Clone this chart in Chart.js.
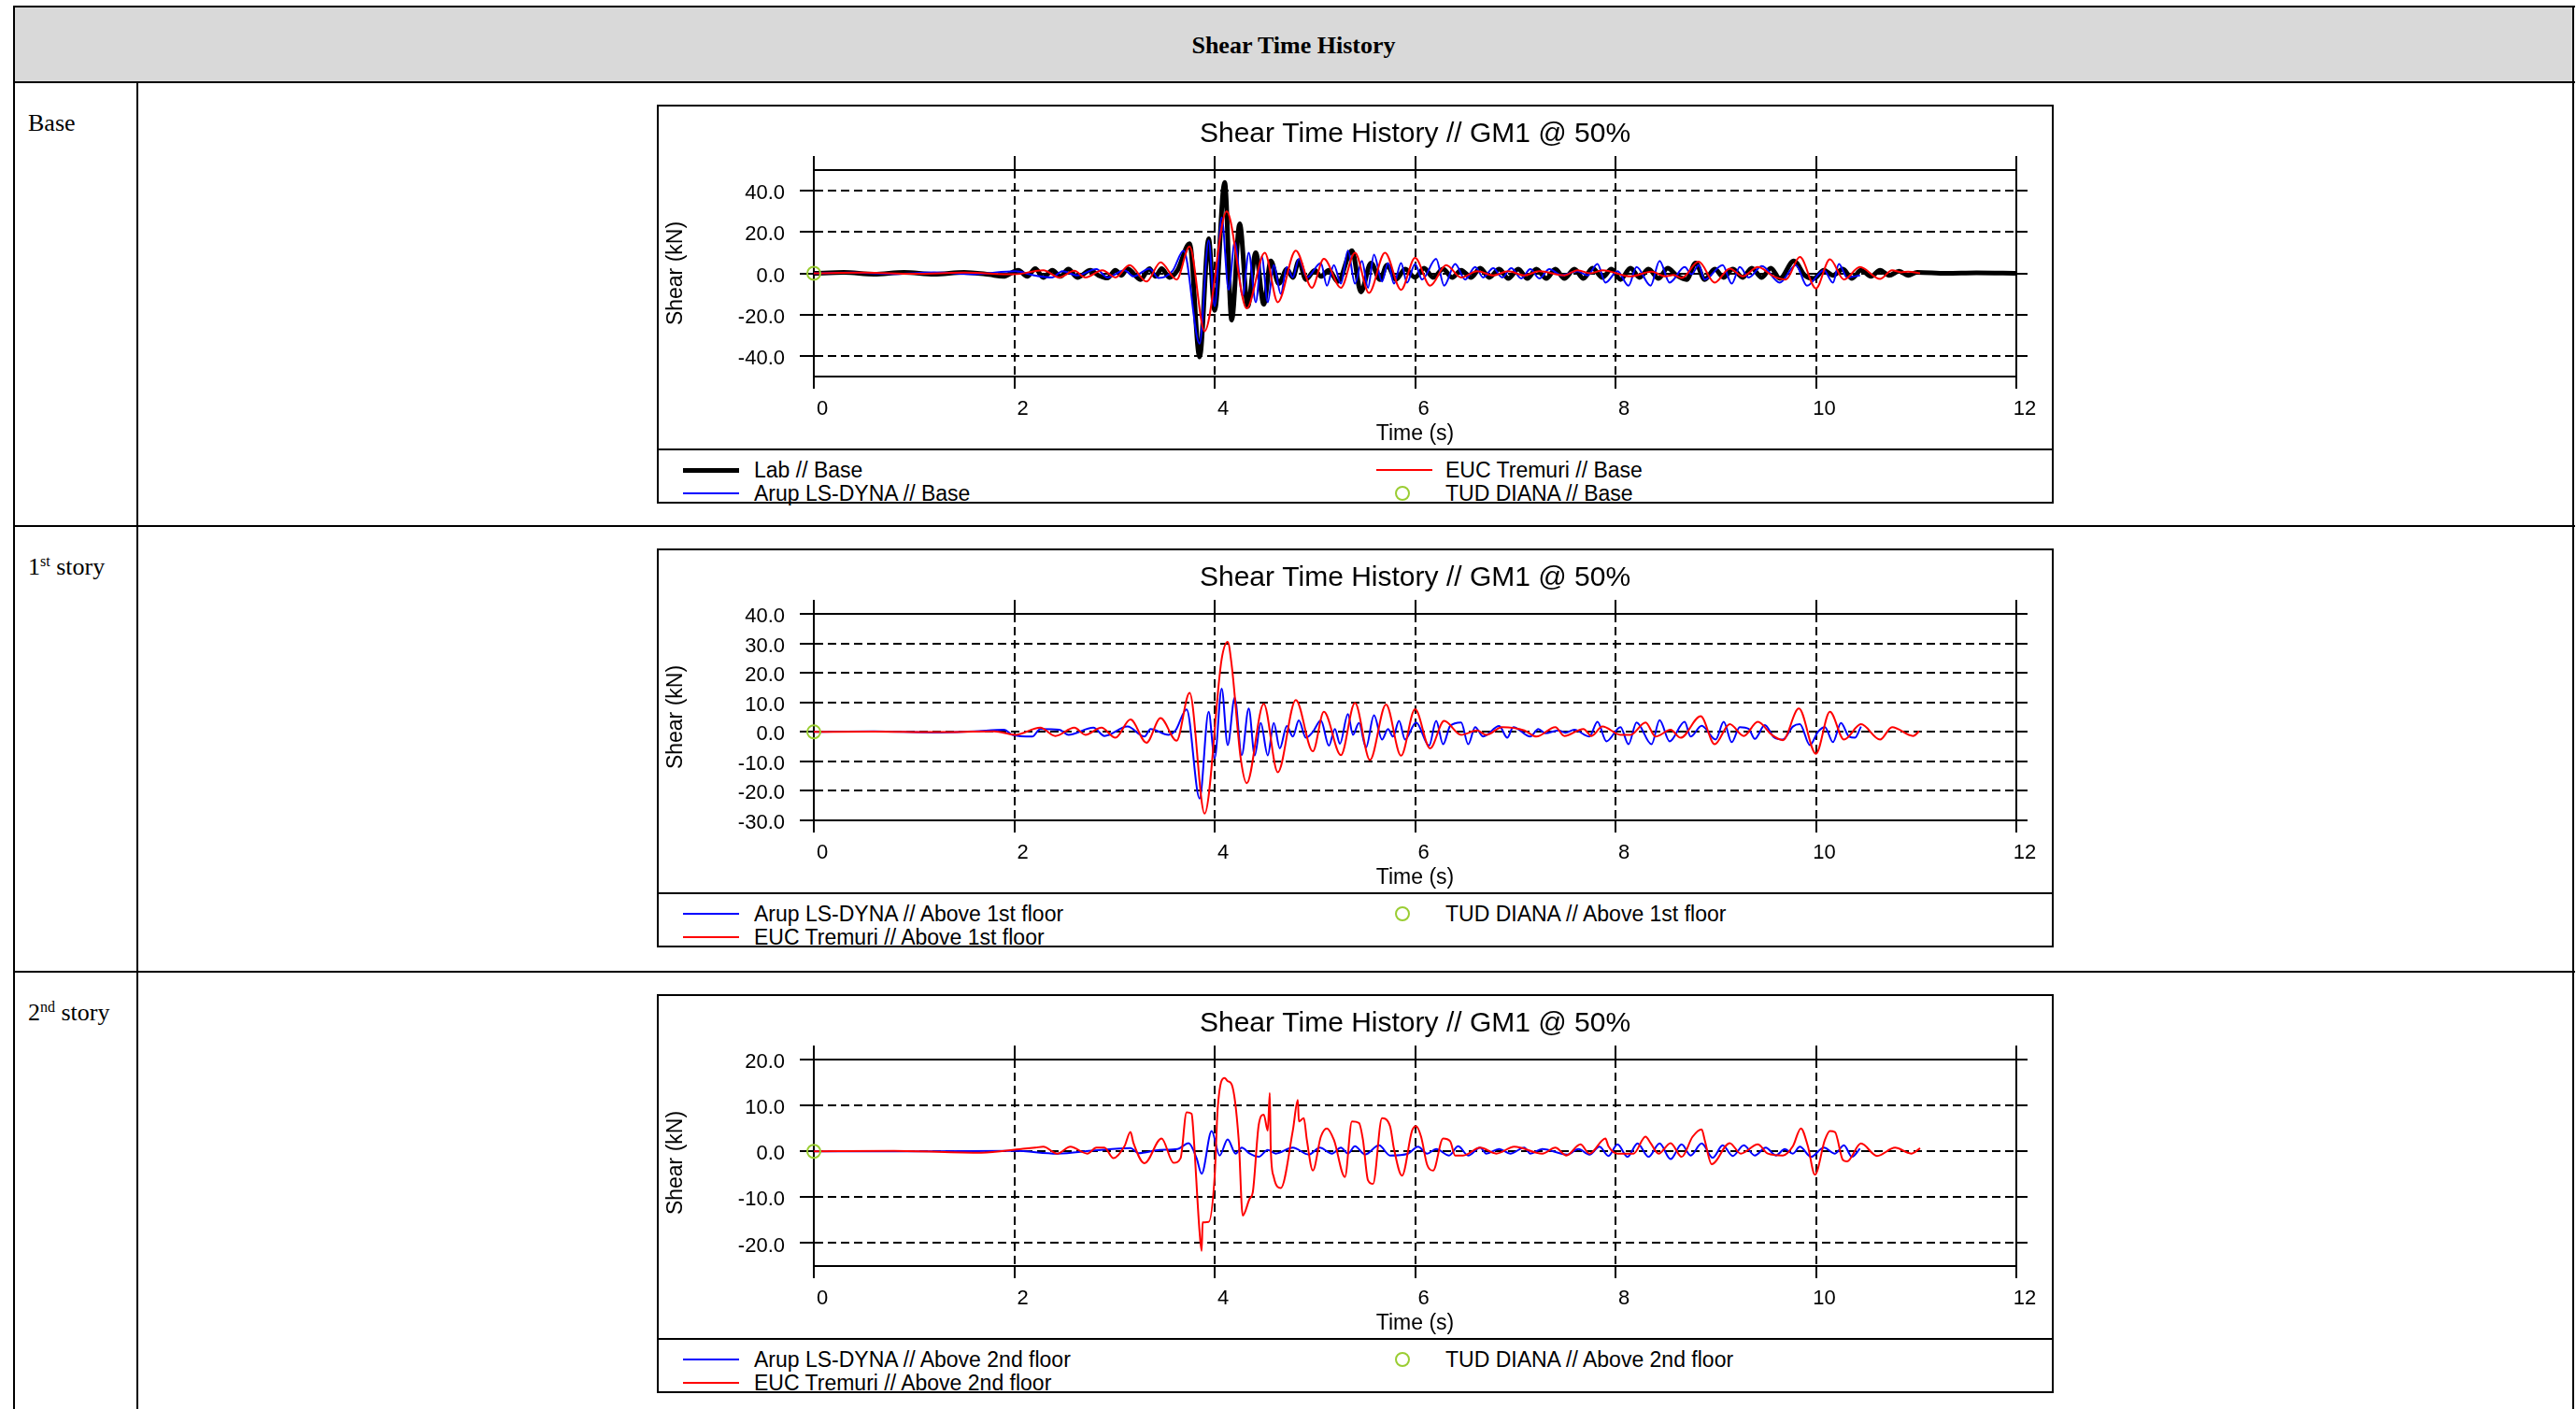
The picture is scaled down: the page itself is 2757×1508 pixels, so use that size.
<!DOCTYPE html>
<html>
<head>
<meta charset="utf-8">
<title>Shear Time History</title>
<script src="https://cdn.jsdelivr.net/npm/chart.js@4.4.1/dist/chart.umd.min.js"></script>
<style>
  body { margin: 0; width: 2757px; height: 1508px; overflow: hidden; background: #fff; font-family: "Liberation Serif", serif; }
  .ln { position: absolute; background: #000; }
  .hdr { position: absolute; left: 16px; top: 8px; width: 2737px; height: 79px; background: #d9d9d9;
         display: flex; align-items: center; justify-content: center; font-weight: bold; font-size: 26px; padding-top: 2px; box-sizing: border-box; }
  .rowlab { position: absolute; left: 30px; font-size: 26px; line-height: 30px; }
  .rowlab sup { font-size: 16px; vertical-align: 9px; line-height: 0; }
  .box { position: absolute; left: 703px; width: 1495px; height: 427px; border: 2px solid #000; box-sizing: border-box; }
  .box canvas { position: absolute; left: 0; top: 0; }
  .sep { position: absolute; left: 0; right: 0; top: 366px; height: 2px; background: #000; }
  .lg { position: absolute; font-family: "Liberation Sans", Arial, sans-serif; font-size: 23px; line-height: 26px; white-space: nowrap; }
  .lgline { position: absolute; }
  .lgdot { position: absolute; width: 12px; height: 12px; border-radius: 50%; border: 2px solid #9acd32; }
</style>
</head>
<body>
<div class="hdr">Shear Time History</div>
<div class="ln" style="left:14px;top:6px;width:2742px;height:2px"></div>
<div class="ln" style="left:14px;top:87px;width:2742px;height:2px"></div>
<div class="ln" style="left:14px;top:562px;width:2742px;height:2px"></div>
<div class="ln" style="left:14px;top:1039px;width:2742px;height:2px"></div>
<div class="ln" style="left:14px;top:6px;width:2px;height:1502px"></div>
<div class="ln" style="left:2753px;top:6px;width:2px;height:1502px"></div>
<div class="ln" style="left:146px;top:87px;width:2px;height:1421px"></div>

<div class="rowlab" style="top:117px">Base</div>
<div class="rowlab" style="top:592px">1<sup>st</sup> story</div>
<div class="rowlab" style="top:1069px">2<sup>nd</sup> story</div>

<div class="box" id="box0" style="top:112px"><canvas id="c0" width="1491" height="366"></canvas><div class="sep"></div></div>
<div class="box" id="box1" style="top:587px"><canvas id="c1" width="1491" height="366"></canvas><div class="sep"></div></div>
<div class="box" id="box2" style="top:1064px"><canvas id="c2" width="1491" height="366"></canvas><div class="sep"></div></div>

<script>
// ticks
const timeTicks = [0, 2, 4, 6, 8, 10, 12];
const yTicksBase = [-40, -20, 0, 20, 40];
const yTicks1st = [-30, -20, -10, 0, 10, 20, 30, 40];
const yTicks2nd = [-20, -10, 0, 10, 20];

// Base shear (kN) vs time (s): [t, V]
const labBase = [[0,0],[0.3,0.4],[0.6,-0.4],[0.9,0.5],[1.2,-0.4],[1.5,0.5],[1.75,-0.6],[1.89,-1.5],[2.04,1.5],[2.13,-1.5],
  [2.21,2.3],[2.29,-2],[2.38,1.5],[2.46,-1.5],[2.54,2],[2.63,-2],[2.76,1.5],[2.84,-1],[2.93,-2.3],[3.01,1.5],[3.07,-1],
  [3.13,2.3],[3.26,-3],[3.35,2.3],[3.41,-1.5],[3.47,2.3],[3.55,-2],[3.63,1.5],[3.75,14.4],[3.85,-40.5],[3.94,16.7],
  [4.0,-18],[4.1,44],[4.17,-22.7],[4.25,24],[4.33,-16],[4.41,10],[4.49,-15],[4.56,6],[4.64,-5],[4.72,2],[4.78,-2],
  [4.84,6],[4.91,-3],[5.0,1.5],[5.06,-1.5],[5.14,1.5],[5.23,-4],[5.37,11],[5.46,-9],[5.56,5],[5.65,-3],[5.72,4],
  [5.81,-3],[5.9,2],[6.0,-2],[6.09,2.5],[6.18,-2],[6.28,2],[6.37,-2],[6.46,1.5],[6.56,-2],[6.65,2.5],[6.74,-2],
  [6.84,2],[6.93,-2.5],[7.03,2],[7.12,-2.5],[7.21,2],[7.31,-2.5],[7.4,2],[7.49,-2.5],[7.59,2],[7.68,-2.5],[7.77,2.5],
  [7.87,-2],[7.96,2],[8.05,-3],[8.15,2.5],[8.24,-2],[8.33,2],[8.43,-2.5],[8.52,2.5],[8.61,-1],[8.71,-3],[8.8,5],
  [8.89,-3],[8.99,2],[9.08,-2],[9.17,2],[9.27,-2],[9.36,2.5],[9.46,-2],[9.55,2.5],[9.64,-2.5],[9.78,6],[9.89,-1],
  [9.98,-2.5],[10.08,1.5],[10.17,-1],[10.27,2],[10.36,-2.5],[10.45,1.5],[10.55,-1.5],[10.64,1.5],[10.73,-1],
  [10.83,1],[10.92,-1],[11.01,0.5],[11.3,0],[11.6,0.2],[12,0]];
const arupBase = [[0,0],[0.4,0.3],[0.8,-0.3],[1.2,0.4],[1.6,-0.4],[2.01,1],[2.2,-1],[2.38,-2],[2.48,1],[2.63,-1],
  [2.82,2],[2.93,-2],[3.1,1.5],[3.19,-1.5],[3.35,2.3],[3.44,-2.3],[3.58,1.2],[3.69,11],[3.85,-34],[3.94,16],[4.0,-16],
  [4.07,27],[4.14,-8],[4.2,15],[4.28,-11],[4.34,10],[4.41,-14],[4.47,8],[4.53,-14],[4.59,4],[4.66,-10],[4.72,3],
  [4.78,-2],[4.84,7],[4.92,-2],[5.06,5],[5.12,-6],[5.19,4],[5.26,-5],[5.33,11],[5.4,-5],[5.47,6],[5.53,-7],[5.59,9],
  [5.67,-4],[5.73,5],[5.79,-5],[5.86,5],[5.92,-4.5],[6.0,4.5],[6.07,-3],[6.21,7],[6.29,-6],[6.4,4.5],[6.5,-3],
  [6.6,3],[6.68,-2],[6.78,2.5],[6.87,-2],[6.96,2.5],[7.06,-2.5],[7.15,2],[7.24,-2.5],[7.34,2],[7.46,-1],[7.62,1],
  [7.72,-1],[7.82,4.5],[7.9,-4.5],[8.02,1],[8.13,-6],[8.21,3],[8.35,-6],[8.44,6],[8.54,-4.5],[8.69,3],[8.76,-0.5],
  [8.83,4],[8.89,-3],[9.07,4],[9.16,-5],[9.24,3],[9.33,-2],[9.46,3.5],[9.64,-4.5],[9.8,4],[9.91,-6],[10.08,1.5],
  [10.17,-4.5],[10.23,4.5],[10.31,-2],[10.44,-1]];
const eucBase = [[0,0],[0.5,0.3],[1.0,-0.2],[1.5,0.3],[2.0,-0.5],[2.29,1.5],[2.45,-2],[2.6,1.2],[2.71,-2],[2.88,1.5],
  [3.01,-2],[3.15,4],[3.32,-4],[3.46,5.3],[3.62,-3],[3.75,13],[3.9,-28],[4.12,30],[4.32,-17],[4.5,10],[4.63,-14],
  [4.81,11],[4.97,-7],[5.09,7],[5.26,-7],[5.4,10],[5.54,-9.5],[5.7,10],[5.86,-8],[6.0,7.5],[6.15,-6],[6.31,4],
  [6.46,-2],[6.62,1],[6.78,-1],[6.93,1],[7.09,-1],[7.24,1],[7.49,-1],[7.62,1.5],[7.75,0],[7.87,1.5],[8.15,-1.5],
  [8.36,0.8],[8.5,-1.5],[8.58,-0.8],[8.66,-2.3],[8.83,5.6],[8.99,-4.5],[9.14,2.3],[9.27,-1.5],[9.42,3],[9.58,-1.5],
  [9.7,-3],[9.84,7.9],[10.0,-7.3],[10.14,6.8],[10.28,-3],[10.44,3],[10.64,-2.7],[10.76,1.5],[10.85,0.5],[10.92,0.8],
  [11.04,0]];
const tudBase = [[0,0]];

// Shear above 1st floor
const arup1st = [[0,0],[0.6,0.2],[1.2,-0.2],[1.6,0.2],[1.9,0.7],[1.98,-1],[2.18,-1.6],[2.26,1],[2.45,0.7],[2.54,-1],
  [2.79,1.4],[2.9,-1.4],[3.13,1.8],[3.3,-1.6],[3.36,1],[3.54,-1],[3.61,0.5],[3.72,7.6],[3.85,-22.6],[3.94,6.8],
  [4.0,-9],[4.07,14.7],[4.13,-4.5],[4.2,11.6],[4.27,-7.9],[4.34,7.9],[4.4,-8],[4.46,3],[4.53,-8],[4.59,3],[4.65,-5.6],
  [4.72,2],[4.78,-1.6],[4.84,3.9],[4.91,-2],[4.98,0],[5.06,3.9],[5.14,-4.7],[5.2,1],[5.25,-4],[5.33,6],[5.38,-1],
  [5.44,3],[5.51,-5.3],[5.59,5.6],[5.67,-2.6],[5.73,1],[5.78,-1.6],[5.84,3.7],[5.9,-2.6],[6.01,3.2],[6.14,-4.7],
  [6.21,3.7],[6.28,-4.2],[6.35,2],[6.46,3.2],[6.53,-4.2],[6.6,1.6],[6.68,-1.6],[6.84,2],[6.92,-2],[6.98,1.6],
  [7.15,-1.6],[7.23,1],[7.3,-0.5],[7.43,0.5],[7.5,-0.3],[7.59,0.7],[7.74,-1.6],[7.82,3.4],[7.91,-3.2],[8.05,1.6],
  [8.13,-4.2],[8.21,3.2],[8.36,-4.2],[8.44,4],[8.54,-3.2],[8.69,3.4],[8.75,-1.6],[8.86,2.1],[9.0,-2.6],[9.08,3.4],
  [9.16,-3.5],[9.24,1.6],[9.33,1],[9.39,-2.4],[9.49,2.3],[9.58,-1.8],[9.67,-2.6],[9.77,1.8],[9.84,2.6],[9.94,-4.5],
  [10.02,0],[10.09,1.6],[10.17,-3.5],[10.25,3],[10.33,-1.6],[10.39,-2],[10.45,1.8]];
const euc1st = [[0,0],[0.6,0.1],[1.2,-0.1],[1.8,0.2],[2.01,-1],[2.26,1.4],[2.41,-1.4],[2.6,1.4],[2.71,-1],[2.87,1.4],
  [3.01,-2],[3.16,4.2],[3.32,-3.7],[3.46,4.7],[3.62,-3],[3.75,13.2],[3.9,-27.7],[4.07,24.7],[4.13,30.5],[4.17,22.6],
  [4.26,-9],[4.32,-17.4],[4.49,9.5],[4.63,-13.7],[4.81,10.8],[4.98,-6.6],[5.09,6.8],[5.26,-7.9],[5.4,9.8],[5.55,-9.5],
  [5.71,9.3],[5.86,-8.1],[6.0,7.7],[6.15,-5.6],[6.29,3.7],[6.46,-1],[6.62,0.5],[6.71,-1],[6.87,1.6],[7.09,0.5],
  [7.21,-1.6],[7.4,1.6],[7.49,-1.4],[7.68,1],[7.76,-1.4],[7.87,1.8],[8.05,-1],[8.15,-1],[8.3,3.2],[8.4,-1.6],
  [8.55,0.7],[8.65,-2],[8.85,5.3],[8.99,-4.2],[9.14,2.6],[9.28,-1.4],[9.42,3.4],[9.56,-1],[9.67,-2.8],[9.83,7.9],
  [10.0,-7.4],[10.14,6.8],[10.28,-2.6],[10.45,2.6],[10.64,-2.6],[10.76,1.6],[10.97,-1.4],[11.03,0.2]];
const tud1st = [[0,0]];

// Shear above 2nd floor
const arup2nd = [[0,0],[1.0,0],[2.0,0.1],[2.43,-0.5],[2.8,0.2],[3.16,0.7],[3.24,-0.4],[3.45,0.3],[3.63,0.5],[3.74,1.8],
  [3.82,-1.5],[3.87,-4.9],[3.97,4.4],[4.05,-0.9],[4.13,2.6],[4.21,-0.5],[4.27,0.8],[4.35,-0.5],[4.44,-1.2],[4.53,0.3],
  [4.61,-0.5],[4.78,0.8],[4.94,-0.7],[5.05,0.8],[5.17,-0.5],[5.26,0.8],[5.33,-0.5],[5.4,1.1],[5.5,-0.7],[5.64,1.3],
  [5.75,-0.9],[5.93,-0.5],[6.03,1],[6.12,-0.5],[6.21,0.5],[6.34,-0.9],[6.43,1.1],[6.53,-0.9],[6.65,0.8],[6.71,-0.5],
  [6.84,0.5],[6.95,-0.5],[7.09,0.8],[7.15,-0.5],[7.27,0.5],[7.52,-0.7],[7.63,0.5],[7.74,-0.7],[7.84,1],[7.93,-1],
  [8.02,1.5],[8.12,-1.2],[8.22,1.7],[8.33,-1.2],[8.44,1.7],[8.55,-1.7],[8.66,1.5],[8.75,-0.9],[8.86,1.7],[8.97,-1.4],
  [9.07,1.3],[9.17,-1],[9.28,1.3],[9.39,-0.9],[9.5,0.8],[9.6,-0.9],[9.69,0.5],[9.77,-0.5],[9.84,1],[9.95,-1.2],
  [10.08,0.8],[10.19,-0.5],[10.28,1.3],[10.36,-1.2],[10.44,0.6]];
const euc2nd = [[0,0],[0.8,0.1],[1.67,-0.3],[2.07,0.5],[2.21,0.8],[2.29,1],[2.43,-0.5],[2.56,1],[2.73,-0.5],[2.82,0.8],
  [2.9,0.8],[2.99,-1.5],[3.1,1.1],[3.16,4.2],[3.19,1.8],[3.3,-2.6],[3.47,2.8],[3.59,-2.5],[3.66,-1.5],[3.72,8.5],
  [3.77,8.2],[3.78,6.5],[3.85,-17.7],[3.87,-21.7],[3.88,-15.5],[3.94,-15.4],[4.0,-5.5],[4.03,9.2],[4.1,16],[4.13,15.3],
  [4.17,14.6],[4.24,2.5],[4.28,-14],[4.35,-10.3],[4.38,-9],[4.44,5.8],[4.49,8],[4.53,4.5],[4.55,12.7],[4.56,0.5],
  [4.59,-5.6],[4.66,-8],[4.78,4.5],[4.83,11.2],[4.84,6.5],[4.89,7.2],[4.92,2.5],[4.98,-4.2],[5.06,3.2],[5.12,5],
  [5.19,2.5],[5.3,-5.6],[5.37,6.5],[5.44,6.2],[5.48,2.5],[5.53,-6.3],[5.58,-7.1],[5.67,7.2],[5.75,5.5],[5.79,0.5],
  [5.87,-5.3],[5.97,4.5],[6.01,5.5],[6.06,3.2],[6.12,-2.9],[6.18,-4.2],[6.28,2.8],[6.35,2.2],[6.4,-0.9],[6.48,-0.9],
  [6.65,0.8],[6.81,-0.5],[6.99,1],[7.27,-0.5],[7.4,0.8],[7.51,-0.9],[7.65,1.5],[7.74,-0.5],[7.9,2.8],[7.93,1.1],
  [8.02,-0.5],[8.18,-0.5],[8.3,3.2],[8.35,1.8],[8.43,-0.5],[8.55,1.8],[8.66,-1.2],[8.77,3.2],[8.86,4.8],[8.89,2.5],
  [8.96,-2.8],[9.14,1.8],[9.25,-0.5],[9.42,1.5],[9.52,-0.5],[9.67,-0.9],[9.77,1.1],[9.85,5],[9.92,1.1],[9.99,-5.1],
  [10.09,2.5],[10.14,4.4],[10.19,4.2],[10.27,-1.9],[10.31,-2.2],[10.45,1.7],[10.61,-1],[10.79,0.8],[10.95,-0.5],
  [11.04,0.7]];
const tud2nd = [[0,0]];

Chart.defaults.font.family = '"Liberation Sans", Arial, sans-serif';
Chart.defaults.color = '#000';

const pts = arr => arr.map(p => ({ x: p[0], y: p[1] }));

function lineSet(label, data, color, width, order) {
  return { label, data: pts(data), borderColor: color, backgroundColor: color, borderWidth: width,
           pointRadius: 0, order, tension: 0.4, cubicInterpolationMode: 'monotone' };
}
function tudSet(label, data) {
  return { label, data: pts(data), showLine: false, pointRadius: 7, pointBorderWidth: 2,
           borderColor: '#9acd32', backgroundColor: 'rgba(0,0,0,0)', order: 0, clip: false };
}

// titre dessiné au centre de la zone de tracé
const boxTitle = {
  id: 'boxTitle',
  afterDraw(chart, args, opts) {
    const { ctx, chartArea } = chart;
    ctx.save();
    ctx.font = '30px "Liberation Sans", Arial, sans-serif';
    ctx.fillStyle = '#000';
    ctx.textAlign = 'center';
    ctx.textBaseline = 'middle';
    ctx.fillText(opts.text, (chartArea.left + chartArea.right) / 2, 30);
    ctx.restore();
  }
};

function makeChart(id, yMin, yMax, yTicks, datasets) {
  const grid = { color: '#000', lineWidth: 2, tickBorderDash: [], tickColor: '#000', tickWidth: 2 };
  const border = { display: true, color: '#000', width: 2, dash: [9, 5] };
  const tickFont = { size: 22 };
  const xt = s => { s.ticks = timeTicks.map(v => ({ value: v })); };
  const yt = s => { s.ticks = yTicks.map(v => ({ value: v })); };
  return new Chart(document.getElementById(id), {
    type: 'line',
    data: { datasets },
    options: {
      responsive: false, animation: false, devicePixelRatio: 1,
      layout: { padding: { top: 53, right: 26, left: 0, bottom: 0 } },
      plugins: { legend: { display: false }, tooltip: { enabled: false },
                 boxTitle: { text: 'Shear Time History // GM1 @ 50%' } },
      scales: {
        x: { type: 'linear', position: 'bottom', min: 0, max: 12, afterBuildTicks: xt,
             afterFit: s => { s.height = 77; s.paddingLeft = 0; s.paddingRight = 0; },
             grid: { ...grid, tickLength: 13 }, border,
             ticks: { font: tickFont, padding: 9, labelOffset: 9, maxRotation: 0, callback: v => String(v) },
             title: { display: true, text: 'Time (s)', font: { size: 23 }, padding: { top: 0, bottom: 2 } } },
        xTop: { type: 'linear', position: 'top', min: 0, max: 12, afterBuildTicks: xt,
                afterFit: s => { s.height = 15; s.paddingLeft = 0; s.paddingRight = 0; },
                grid: { ...grid, drawOnChartArea: false, tickLength: 15 }, border, ticks: { display: false } },
        y: { type: 'linear', position: 'left', min: yMin, max: yMax, afterBuildTicks: yt,
             afterFit: s => { s.width = 166; s.paddingTop = 0; s.paddingBottom = 0; },
             grid: { ...grid, tickLength: 15 }, border,
             ticks: { font: tickFont, padding: 16, labelOffset: 3, callback: v => v.toFixed(1) },
             title: { display: true, text: 'Shear (kN)', font: { size: 23 }, padding: { top: 5, bottom: 0 } } },
        yRight: { type: 'linear', position: 'right', min: yMin, max: yMax, afterBuildTicks: yt,
                  afterFit: s => { s.width = 12; s.paddingTop = 0; s.paddingBottom = 0; },
                  grid: { ...grid, drawOnChartArea: false, tickLength: 12 }, border, ticks: { display: false } }
      }
    },
    plugins: [boxTitle]
  });
}

// légende en deux colonnes sous le graphique
function legend(boxId, chart, items) {
  const box = document.getElementById(boxId);
  const rowY = [389, 414];
  const lineX = [26, 768], textX = [102, 842], dotX = [55, 796];
  items.forEach(([dsIndex, col, row]) => {
    const ds = chart.data.datasets[dsIndex];
    const y = rowY[row];
    if (ds.showLine === false) {
      const d = document.createElement('div');
      d.className = 'lgdot';
      d.style.left = (dotX[col] - 8) + 'px';
      d.style.top = (y - 8) + 'px';
      d.style.borderColor = ds.borderColor;
      box.appendChild(d);
    } else {
      const l = document.createElement('div');
      l.className = 'lgline';
      l.style.left = lineX[col] + 'px';
      l.style.width = '60px';
      l.style.top = (y - ds.borderWidth / 2) + 'px';
      l.style.height = ds.borderWidth + 'px';
      l.style.background = ds.borderColor;
      box.appendChild(l);
    }
    const t = document.createElement('div');
    t.className = 'lg';
    t.style.left = textX[col] + 'px';
    t.style.top = (y - 13) + 'px';
    t.textContent = ds.label;
    box.appendChild(t);
  });
}

const c0 = makeChart('c0', -50, 50, yTicksBase, [
  lineSet('Lab // Base', labBase, '#000000', 5, 3),
  lineSet('Arup LS-DYNA // Base', arupBase, '#0000ff', 2, 2),
  lineSet('EUC Tremuri // Base', eucBase, '#ff0000', 2, 1),
  tudSet('TUD DIANA // Base', tudBase)
]);
legend('box0', c0, [[0, 0, 0], [1, 0, 1], [2, 1, 0], [3, 1, 1]]);

const c1 = makeChart('c1', -30, 40, yTicks1st, [
  lineSet('Arup LS-DYNA // Above 1st floor', arup1st, '#0000ff', 2, 2),
  lineSet('EUC Tremuri // Above 1st floor', euc1st, '#ff0000', 2, 1),
  tudSet('TUD DIANA // Above 1st floor', tud1st)
]);
legend('box1', c1, [[0, 0, 0], [1, 0, 1], [2, 1, 0]]);

const c2 = makeChart('c2', -25, 20, yTicks2nd, [
  lineSet('Arup LS-DYNA // Above 2nd floor', arup2nd, '#0000ff', 2, 2),
  lineSet('EUC Tremuri // Above 2nd floor', euc2nd, '#ff0000', 2, 1),
  tudSet('TUD DIANA // Above 2nd floor', tud2nd)
]);
legend('box2', c2, [[0, 0, 0], [1, 0, 1], [2, 1, 0]]);
</script>
</body>
</html>
